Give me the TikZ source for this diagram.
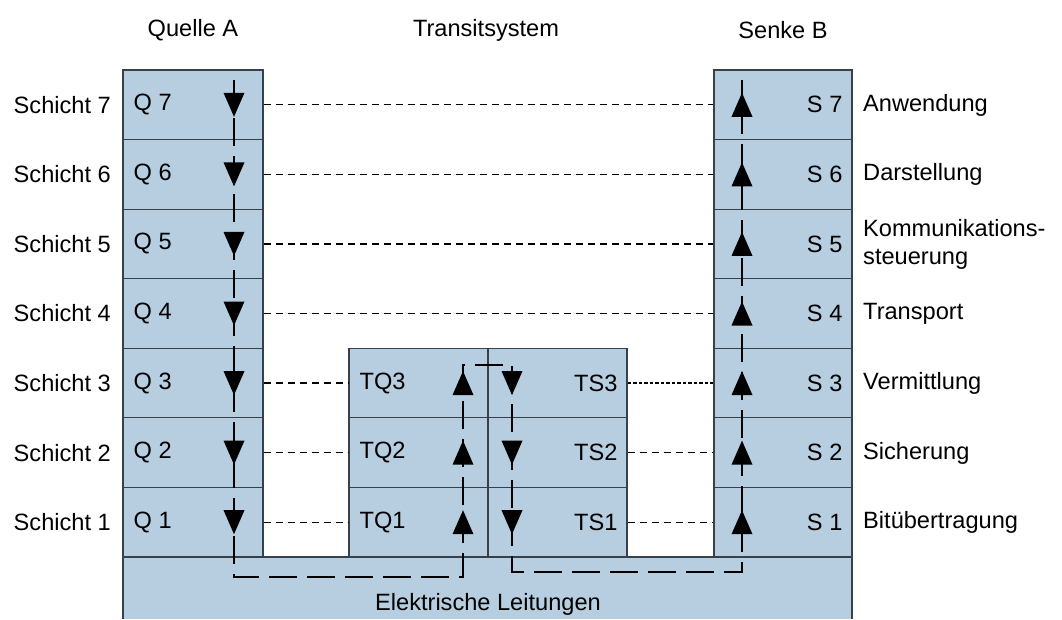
\documentclass[tikz,border=0pt]{standalone}
\usepackage{fontspec}
\setmainfont{Liberation Sans}
\definecolor{cellfill}{RGB}{183,205,224}
\definecolor{cellline}{RGB}{55,65,75}
\begin{document}
\begin{tikzpicture}[x=1pt,y=-1pt,
  every node/.style={font=\fontsize{23.6}{27.5}\selectfont, inner sep=0pt},
  cell/.style={fill=cellfill, draw=cellline, line width=1.2pt, minimum height=69.57pt},
  hdash/.style={dash pattern=on 7.5pt off 4.5pt, line width=1.3pt},
  hdot/.style={dash pattern=on 3.5pt off 2pt, line width=1.3pt},
  flow/.style={line width=2.5pt, dash pattern=on 28pt off 10pt},
  dn/.pic={\fill (-10.5,-12) -- (10.5,-12) -- (0,12) -- cycle;},
  up/.pic={\fill (-10.5,12) -- (10.5,12) -- (0,-12) -- cycle;}
]
\useasboundingbox (0,0) rectangle (1062,619);
% bottom box
\fill[cellfill] (123,557) rectangle (852,619);
\draw[cellline, line width=1.2pt] (123,619) -- (123,557) -- (852,557) -- (852,619);
\node (el) at (488,604) {Elektrische Leitungen};
% headers
\node (hA) at (193,30) {Quelle A};
\node (hT) at (486,30) {Transitsystem};
\node (hB) at (783,30) {Senke B};
% columns
\foreach \i in {1,...,7}{
  \pgfmathsetmacro{\yy}{70+(7-\i+0.5)*69.57}
  \node[cell, minimum width=140pt] (q\i) at (193,\yy) {};
  \node[anchor=west] (qt\i) at ([xshift=11pt]q\i.west) {Q \i};
  \node[cell, minimum width=138pt] (s\i) at (783,\yy) {};
  \node[anchor=east] (st\i) at ([xshift=-10pt]s\i.east) {S \i};
  \node[anchor=east] (l\i) at (111,\yy) {Schicht \i};
}
\foreach \i in {1,2,3}{
  \pgfmathsetmacro{\yy}{70+(7-\i+0.5)*69.57}
  \node[cell, minimum width=139pt] (tq\i) at (418.5,\yy) {};
  \node[anchor=west] (tqt\i) at ([xshift=11pt]tq\i.west) {TQ\i};
  \node[cell, minimum width=139pt] (ts\i) at (557.5,\yy) {};
  \node[anchor=east] (tst\i) at ([xshift=-10pt]ts\i.east) {TS\i};
}
% right labels
\node[anchor=west] (r7) at (863,105) {Anwendung};
\node[anchor=west] (r6) at (863,174.6) {Darstellung};
\node[anchor=west, align=left] (r5) at (863,244.2) {Kommunikations-\\steuerung};
\node[anchor=west] (r4) at (863,313.7) {Transport};
\node[anchor=west] (r3) at (863,383.3) {Vermittlung};
\node[anchor=west] (r2) at (863,452.9) {Sicherung};
\node[anchor=west] (r1) at (863,522.4) {Bitübertragung};
% horizontal dashed links
\foreach \i in {4,...,7}{ \draw[hdash] (q\i.east) -- (s\i.west); }
\foreach \i in {1,2,3}{ \draw[hdash] (q\i.east) -- (tq\i.west); }
\foreach \i in {1,2}{ \draw[hdash] (ts\i.east) -- (s\i.west); }
\draw[hdot] (ts3.east) -- (s3.west);
% flow path
\coordinate (qa) at (234,80);
\coordinate (qb) at (234,577);
\coordinate (ta) at (463,577);
\coordinate (tb) at (463,365);
\coordinate (tc) at (512,365);
\coordinate (td) at (512,572);
\coordinate (sa) at (742,572);
\coordinate (sb) at (742,80);
\draw[flow] (qa) -- (qb) -- (ta) -- (tb) -- (tc) -- (td) -- (sa) -- (sb);
% arrowheads
\foreach \i in {1,...,7}{
  \path (qa |- q\i) pic {dn};
  \path (sb |- s\i) pic {up};
}
\foreach \i in {1,2,3}{
  \path (ta |- tq\i) pic {up};
  \path (td |- ts\i) pic {dn};
}
\end{tikzpicture}
\end{document}
